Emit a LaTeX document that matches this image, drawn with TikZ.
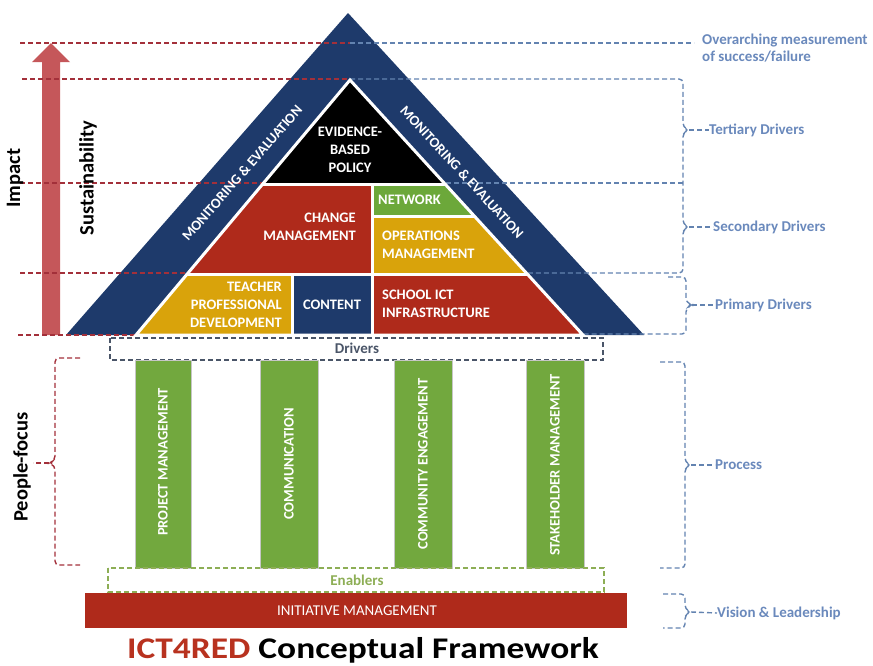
\documentclass[tikz,border=0pt]{standalone}
\usepackage{fontspec}
\setmainfont{Carlito}
\usetikzlibrary{calc}
\definecolor{navy}{HTML}{1E3A6B}
\definecolor{cellred}{HTML}{AF2A1B}
\definecolor{cellyel}{HTML}{D9A30B}
\definecolor{cellgreen}{HTML}{6CA83A}
\definecolor{pillargreen}{HTML}{72A83E}
\definecolor{arrowred}{HTML}{C5575A}
\definecolor{dashred}{HTML}{A3303A}
\definecolor{lblue}{HTML}{6A89BC}
\definecolor{brblue}{HTML}{6383B0}
\definecolor{drvgray}{HTML}{4A5568}
\definecolor{enagreen}{HTML}{8DAE55}
\definecolor{titlered}{HTML}{B8321F}
\tikzset{
  celltext/.style={text=white, font=\fontsize{14.5}{18}\selectfont\bfseries, inner sep=0pt},
  bandtext/.style={text=white, font=\fontsize{14.3}{16}\selectfont\bfseries, inner sep=0pt},
  pillartext/.style={text=white, font=\fontsize{14.5}{17}\selectfont\bfseries, inner sep=0pt, rotate=90},
  pillar/.style={fill=pillargreen, draw=gray!45, line width=0.8pt},
  sidelabel/.style={text=lblue, font=\fontsize{15}{17}\selectfont\bfseries, inner sep=0pt, anchor=west, align=left},
  biglabel/.style={text=black, font=\fontsize{20.5}{22}\selectfont\bfseries, inner sep=0pt, rotate=90},
  reddash/.style={draw=dashred, line width=1.4pt, dash pattern=on 5pt off 3pt},
  bluedash/.style={draw=brblue, line width=1.4pt, dash pattern=on 5pt off 3pt},
  brace/.style={bluedash, rounded corners=4pt},
}
\begin{document}
\begin{tikzpicture}[x=1pt,y=-1pt]
\useasboundingbox (0,0) rectangle (873,665);

% red arrow
\fill[arrowred] (42,335) -- (42,62) -- (32,62) -- (51,43) -- (70,62) -- (60,62) -- (60,335) -- cycle;

% outer band
\fill[navy] (348,13) -- (644,335) -- (66,335) -- cycle;

% level lines
\draw[reddash] (20,43) -- (350,43);
\draw[bluedash] (350,43) -- (694,43);
\draw[reddash] (22,79) -- (350,79);
\draw[reddash] (20,183) -- (350,183);
\draw[bluedash] (350,183) -- (683,183);
\draw[reddash] (20,273) -- (350,273);
\draw[reddash] (18,335) -- (136,335);

% braces on the right
\draw[brace] (350,79) -- (683,79) -- (683,127) -- (689,130) -- (683,133) -- (683,224) -- (689,227) -- (683,230) -- (683,273) -- (527,273);
\draw[brace] (668,277) -- (686,277) -- (686,302) -- (692,305) -- (686,308) -- (686,334) -- (583,334);
\draw[brace] (660,362) -- (685,362) -- (685,462) -- (691,465) -- (685,468) -- (685,568) -- (660,568);
\draw[brace] (663,594) -- (685,594) -- (685,609) -- (691,612) -- (685,615) -- (685,628) -- (663,628);
% people-focus brace
\draw[reddash, rounded corners=4pt] (80,358) -- (55,358) -- (55,460) -- (49,463) -- (55,466) -- (55,565) -- (80,565);

% inner triangle
\fill[white] (350,80) -- (583,335) -- (136,335) -- cycle;
\begin{scope}
  \clip (350,80) -- (583,335) -- (136,335) -- cycle;
  \fill[black] (0,0) rectangle (873,183);
  \fill[cellred] (0,186) rectangle (370.5,272.5);
  \fill[cellgreen] (373.5,186) rectangle (873,215);
  \fill[cellyel] (373.5,218) rectangle (873,272.5);
  \fill[cellyel] (0,275.5) rectangle (291,340);
  \fill[navy] (294,275.5) rectangle (371,340);
  \fill[cellred] (374,275.5) rectangle (873,340);
\end{scope}
\draw[white, line width=3pt, line join=miter] (350,80) -- (583,335) -- (136,335) -- cycle;
\fill[white] (100,336.5) rectangle (620,345);

% cell texts
\node[celltext, align=center] (ebp) at (350,150) {EVIDENCE-\\BASED\\POLICY};
\node[celltext, align=right, anchor=east] (chg) at (356,227) {CHANGE\\MANAGEMENT};
\node[celltext, anchor=west] (net) at (378,200) {NETWORK};
\node[celltext, align=left, anchor=west] (ops) at (382,245) {OPERATIONS\\MANAGEMENT};
\node[celltext, align=right, anchor=east] (tpd) at (282,305) {TEACHER\\PROFESSIONAL\\DEVELOPMENT};
\node[celltext] (cont) at (332,305) {CONTENT};
\node[celltext, align=left, anchor=west] (sict) at (382,304) {SCHOOL ICT\\INFRASTRUCTURE};

% band texts
\node[bandtext, rotate=48.8] (me1) at (242,173) {MONITORING \& EVALUATION};
\node[bandtext, rotate=-47.4] (me2) at (462,172) {MONITORING \& EVALUATION};

% drivers box
\draw[draw=drvgray, line width=1.4pt, dash pattern=on 5pt off 3pt] (110,338) rectangle (603,360);
\node[text=drvgray, font=\fontsize{15}{17}\selectfont\bfseries, inner sep=0pt] (drivers) at (357,348) {Drivers};

% pillars
\draw[pillar] (135,360) rectangle (191,568);
\draw[pillar] (260,360) rectangle (318,568);
\draw[pillar] (394,360) rectangle (452,568);
\draw[pillar] (526,360) rectangle (584,568);
\node[pillartext] (p1) at (163,462) {PROJECT MANAGEMENT};
\node[pillartext] (p2) at (289,464) {COMMUNICATION};
\node[pillartext] (p3) at (423,464) {COMMUNITY ENGAGEMENT};
\node[pillartext] (p4) at (555,465) {STAKEHOLDER MANAGEMENT};

% enablers
\draw[draw=enagreen, line width=1.4pt, dash pattern=on 5pt off 3pt] (108,568) rectangle (604,592);
\node[text=enagreen, font=\fontsize{15}{17}\selectfont\bfseries, inner sep=0pt] (enab) at (357,580) {Enablers};

% initiative management
\fill[cellred] (85,593) rectangle (627,628);
\node[text=white, font=\fontsize{15}{17}\selectfont, inner sep=0pt] (init) at (357,611) {INITIATIVE MANAGEMENT};

% title
\node[font=\fontsize{30}{32}\selectfont\bfseries, inner sep=0pt, xscale=1.18] (title) at (363,650) {\textcolor{titlered}{ICT4RED} Conceptual Framework};

% side labels
\node[sidelabel] (over) at (702,48) {Overarching measurement\\of success/failure};
\node[sidelabel] (tert) at (709,130) {Tertiary Drivers};
\node[sidelabel] (sec) at (713,227) {Secondary Drivers};
\node[sidelabel] (prim) at (715,305) {Primary Drivers};
\node[sidelabel] (proc) at (715,465) {Process};
\node[sidelabel] (vis) at (717,613) {Vision \& Leadership};
\coordinate (t1) at (689,130);
\coordinate (t2) at (689,227);
\coordinate (t3) at (692,305);
\coordinate (t4) at (691,465);
\coordinate (t5) at (691,612);
\draw[bluedash] (t1) -- (tert.west);
\draw[bluedash] (t2) -- (sec.west);
\draw[bluedash] (t3) -- (prim.west);
\draw[bluedash] (t4) -- (proc.west);
\draw[bluedash] (t5) -- (vis.west);

% left labels
\node[biglabel] (impact) at (15,178) {Impact};
\node[biglabel] (sust) at (88,178) {Sustainability};
\node[biglabel] (people) at (22,467) {People-focus};
\coordinate (pf) at (49,463);
\draw[reddash] (pf) -- (33,463);
\end{tikzpicture}
\end{document}
